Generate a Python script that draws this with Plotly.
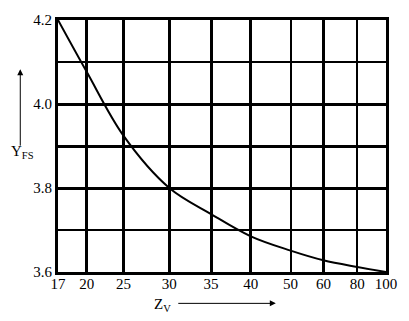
import numpy as np
import plotly.graph_objects as go

# axis scale (non-uniform x scale as printed on the chart)
x_ticks = [17, 20, 25, 30, 35, 40, 50, 60, 80, 100]
x_tick_labels = ["17", "20", "25", "30", "35", "40", "50", "60", "80", "100"]
x_scale = [0, 29, 66, 112, 154, 194, 234, 267, 301, 330]
x_thick = [17, 20, 25, 30, 35, 40, 60, 100]

y_major = [3.6, 3.8, 3.9, 4.0, 4.2]
y_major_labels = ["3.6", "3.8", "", "4.0", "4.2"]
y_minor = [3.7, 4.1]

# curve data
z_v = [17, 20, 25, 30, 35, 40, 50, 60, 80, 100]
y_fs = [4.2, 4.076, 3.924, 3.80, 3.738, 3.685, 3.651, 3.628, 3.612, 3.60]

def to_scale(v):
    return np.interp(v, x_ticks, x_scale)

FONT = "Liberation Serif, Times New Roman, serif"

fig = go.Figure()
fig.add_trace(go.Scatter(
    x=to_scale(z_v), y=y_fs, mode="lines",
    line=dict(color="black", width=2, shape="spline", smoothing=1.0),
    hoverinfo="skip", showlegend=False,
))

fig.update_layout(
    width=409, height=321,
    margin=dict(l=58, r=21, t=15, b=49),
    paper_bgcolor="white", plot_bgcolor="white",
    font=dict(family=FONT, size=15, color="black"),
    showlegend=False,
    xaxis=dict(
        range=[0, 330], tickmode="array",
        tickvals=to_scale(x_ticks), ticktext=x_tick_labels,
        showgrid=True, gridcolor="black", gridwidth=2,
        minor=dict(tickmode="array", tickvals=list(to_scale(x_thick)),
                   showgrid=True, gridcolor="black", gridwidth=3),
        showline=True, linecolor="black", linewidth=3, mirror=True,
        zeroline=False, ticks="", ticklabelstandoff=-4,
        tickfont=dict(family=FONT, size=15),
    ),
    yaxis=dict(
        range=[3.6, 4.2], tickmode="array",
        tickvals=y_major, ticktext=y_major_labels,
        showgrid=True, gridcolor="black", gridwidth=3,
        minor=dict(tickmode="array", tickvals=y_minor,
                   showgrid=True, gridcolor="black", gridwidth=2),
        showline=True, linecolor="black", linewidth=3, mirror=True,
        zeroline=False, ticks="", tickfont=dict(family=FONT, size=15),
    ),
)

# axis titles with arrows
fig.add_annotation(xref="paper", yref="paper", x=-0.115, y=0.805,
                   ax=0, ay=78, axref="pixel", ayref="pixel",
                   showarrow=True, arrowhead=2, arrowsize=1.2, arrowwidth=1,
                   arrowcolor="black", text="")
fig.add_annotation(xref="paper", yref="paper", x=-0.109, y=0.475,
                   xanchor="center", yanchor="middle",
                   text="Y<sub>FS</sub>", showarrow=False,
                   font=dict(family=FONT, size=15))
fig.add_annotation(xref="paper", yref="paper", x=0.664, y=-0.1245,
                   ax=-99, ay=0, axref="pixel", ayref="pixel",
                   showarrow=True, arrowhead=2, arrowsize=1.2, arrowwidth=1,
                   arrowcolor="black", text="")
fig.add_annotation(xref="paper", yref="paper", x=0.318, y=-0.13,
                   xanchor="center", yanchor="middle",
                   text="Z<sub>V</sub>", showarrow=False,
                   font=dict(family=FONT, size=15))

fig.write_html("out.html")
